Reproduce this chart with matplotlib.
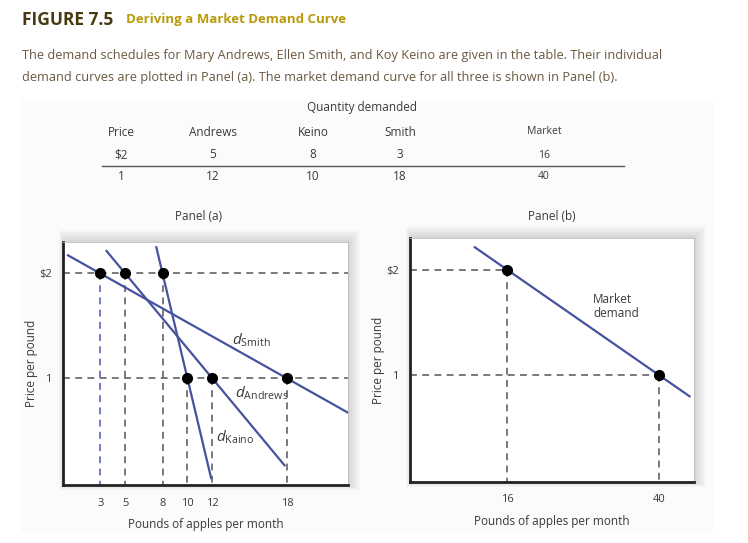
import matplotlib.pyplot as plt
from matplotlib.patches import Rectangle

plt.rcParams['font.family'] = ['Open Sans', 'DejaVu Sans']
plt.rcParams['mathtext.fontset'] = 'custom'
plt.rcParams['mathtext.it'] = 'Open Sans:italic'
plt.rcParams['mathtext.rm'] = 'Open Sans'

# Demand schedules (table)
prices = [2, 1]
price_labels = ['$2', '1']
andrews = [5, 12]
keino = [8, 10]
smith = [3, 18]
market = [16, 40]

# Ends of the drawn demand lines (quantity range)
smith_q = [0.4, 22.9]
andrews_q = [3.5, 17.8]
keino_q = [7.5, 11.9]
market_q = [10.9, 44.8]

W, H = 748, 543
fig = plt.figure(figsize=(W / 100, H / 100), dpi=100)

def fx(px):
    return px / W

def fy(py):
    return 1 - py / H

line_c = '#46529e'
dash_c = '#555555'
text_c = '#3a3a3a'

# light background block
fig.patches.append(Rectangle((fx(21), fy(531)), fx(712) - fx(21), fy(101) - fy(531),
                             transform=fig.transFigure, color='#fbfbfb', zorder=-10))

# Title and caption
fig.text(fx(22), fy(20), 'FIGURE 7.5', fontsize=12.5, fontweight='bold', color='#4a3a12', va='center')
fig.text(fx(126), fy(20), 'Deriving a Market Demand Curve', fontsize=9.5, fontweight='bold',
         color='#b89a0a', va='center')
fig.text(fx(22), fy(56), 'The demand schedules for Mary Andrews, Ellen Smith, and Koy Keino are given in the table. '
         'Their individual', fontsize=9.2, color='#6a5840', va='center')
fig.text(fx(22), fy(78), 'demand curves are plotted in Panel (a). The market demand curve for all three is shown '
         'in Panel (b).', fontsize=9.2, color='#6a5840', va='center')

# Table
fig.text(fx(362), fy(107), 'Quantity demanded', fontsize=8.5, color=text_c, ha='center', va='center')
cols_x = [121, 213, 313, 400, 544]
heads = ['Price', 'Andrews', 'Keino', 'Smith', 'Market']
for x, h in zip(cols_x, heads):
    fig.text(fx(x), fy(132), h, fontsize=8.5 if h != 'Market' else 7.5, color=text_c,
             ha='center', va='center')
rows_y = [155, 176]
for i in range(2):
    vals = [price_labels[i], andrews[i], keino[i], smith[i], market[i]]
    for x, v in zip(cols_x, vals):
        fig.text(fx(x), fy(rows_y[i]), str(v), fontsize=8.5 if x != 544 else 7.5, color=text_c,
                 ha='center', va='center')
fig.add_artist(plt.Line2D([fx(102), fx(624)], [fy(166), fy(166)], color='#555555', lw=1.0))

def shadow(left, bottom, right, top):
    for i in range(7):
        fig.patches.append(Rectangle((fx(left - i + 2), fy(bottom + i - 1)),
                                     fx(right + 2 * i) - fx(left - i + 2),
                                     fy(top - 2 * i) - fy(bottom + i - 1),
                                     transform=fig.transFigure, color='black',
                                     alpha=0.025, zorder=-5, lw=0))

def style(ax):
    ax.set_facecolor('white')
    for s in ['left', 'bottom']:
        ax.spines[s].set_linewidth(2.0)
        ax.spines[s].set_color('#222222')
    for s in ['top', 'right']:
        ax.spines[s].set_linewidth(0.6)
        ax.spines[s].set_color('#bbbbbb')
    ax.tick_params(axis='x', length=0, labelsize=8, labelcolor=text_c, pad=9)
    ax.tick_params(axis='y', length=0, labelsize=8, labelcolor=text_c, pad=8)
    ax.set_xlabel('Pounds of apples per month', fontsize=8.5, color=text_c, labelpad=7)
    ax.set_ylabel('Price per pound', fontsize=8.5, color=text_c, labelpad=1)
    ax.set_yticks(prices)
    ax.set_yticklabels(price_labels)

dash = (0, (4.5, 3.5))

# Panel (a)
shadow(63, 485, 348, 242)
ax1 = fig.add_axes([fx(63), fy(485), fx(348) - fx(63), fy(242) - fy(485)])
ax1.set_xlim(0, 22.9)
ax1.set_ylim(-0.016, 2.3)
style(ax1)
for p in prices:
    ax1.plot([0, 22.9], [p, p], ls=dash, color=dash_c, lw=1.1, zorder=1)
for qs in [andrews, keino, smith]:
    for q, p in zip(qs, prices):
        c = '#4a5ab0' if q == smith[0] else dash_c
        ax1.plot([q, q], [p, -0.016], ls=dash, color=c, lw=1.1, zorder=1)

for qs, ends in [(smith, smith_q), (andrews, andrews_q), (keino, keino_q)]:
    slope = (prices[1] - prices[0]) / (qs[1] - qs[0])
    ax1.plot(ends, [prices[0] + slope * (e - qs[0]) for e in ends], color=line_c, lw=1.6, zorder=2)
    ax1.plot(qs, prices, 'o', color='black', ms=7, zorder=3)

ax1.set_xticks(sorted(smith + andrews + keino))
ax1.text(13.6, 1.36, r'$d_{\mathrm{Smith}}$', fontsize=11, color=text_c, ha='left', va='center')
ax1.text(13.8, 0.86, r'$d_{\mathrm{Andrews}}$', fontsize=11, color=text_c, ha='left', va='center')
ax1.text(12.3, 0.44, r'$d_{\mathrm{Kaino}}$', fontsize=11, color=text_c, ha='left', va='center')
fig.text(fx(199), fy(217), 'Panel (a)', fontsize=8.5, color=text_c, ha='center', va='center')

# Panel (b)
shadow(410, 482, 694, 238)
ax2 = fig.add_axes([fx(410), fy(482), fx(694) - fx(410), fy(238) - fy(482)])
ax2.set_xlim(0.68, 45.5)
ax2.set_ylim(-0.012, 2.3)
style(ax2)
for q, p in zip(market, prices):
    ax2.plot([0.68, q], [p, p], ls=dash, color=dash_c, lw=1.1, zorder=1)
    ax2.plot([q, q], [p, -0.012], ls=dash, color=dash_c, lw=1.1, zorder=1)
slope = (prices[1] - prices[0]) / (market[1] - market[0])
ax2.plot(market_q, [prices[0] + slope * (e - market[0]) for e in market_q], color=line_c, lw=1.6, zorder=2)
ax2.plot(market, prices, 'o', color='black', ms=7, zorder=3)
ax2.set_xticks(market)
ax2.text(29.6, 1.78, 'Market\ndemand', fontsize=8.5, color=text_c, ha='left', va='top', linespacing=1.1)
fig.text(fx(552), fy(217), 'Panel (b)', fontsize=8.5, color=text_c, ha='center', va='center')

fig.savefig('out.png', dpi=100)
